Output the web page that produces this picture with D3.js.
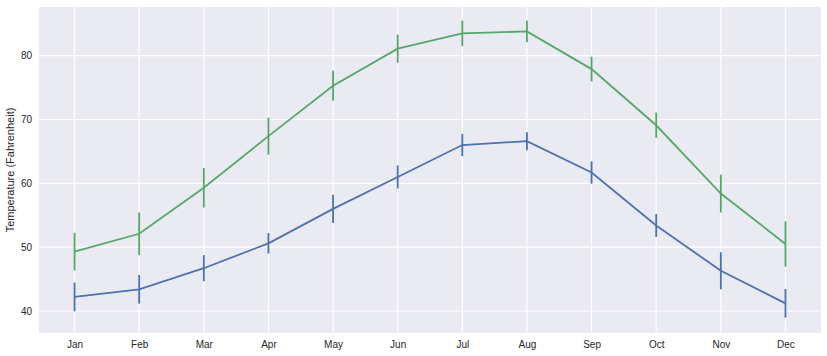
<!DOCTYPE html>
<html>
<head>
<meta charset="utf-8">
<script src="https://cdn.jsdelivr.net/npm/d3@7"></script>
<style>
  html, body { margin: 0; padding: 0; background: #ffffff; }
  svg { display: block; }
  text { font-family: "Liberation Sans", Arial, sans-serif; fill: #262626; }
</style>
</head>
<body>
<svg id="chart" width="827" height="356"></svg>
<script>
const months = ["Jan","Feb","Mar","Apr","May","Jun","Jul","Aug","Sep","Oct","Nov","Dec"];
const lowTemps  = [42.2, 43.4, 46.7, 50.6, 56.0, 61.0, 66.0, 66.6, 61.7, 53.4, 46.3, 41.2];
const lowErr    = [2.25, 2.25, 2.05, 1.6, 2.2, 1.8, 1.75, 1.4, 1.75, 1.8, 2.9, 2.25];
const highTemps = [49.3, 52.1, 59.3, 67.4, 75.3, 81.1, 83.5, 83.8, 77.9, 69.1, 58.4, 50.5];
const highErr   = [2.95, 3.35, 3.1, 2.9, 2.35, 2.2, 2.0, 1.7, 1.95, 2.0, 2.95, 3.55];
const yTicks = [40, 50, 60, 70, 80];
const yLabel = "Temperature (Fahrenheit)";

const series = [
  { values: lowTemps, errs: lowErr, color: "#4C72B0" },
  { values: highTemps, errs: highErr, color: "#55A868" }
];

const mLeft = 39, mRight = 821, mTop = 7, mBottom = 333;
const svg = d3.select("#chart");

const x = d3.scaleLinear().domain([-0.55, months.length - 1 + 0.55]).range([mLeft, mRight]);
const y = d3.scaleLinear().domain([36.55, 87.63]).range([mBottom, mTop]);

svg.append("rect").attr("x", mLeft).attr("y", mTop)
  .attr("width", mRight - mLeft).attr("height", mBottom - mTop).attr("fill", "#EAEAF2");

// grid
const g = svg.append("g");
g.selectAll("line.vg").data(months).join("line")
  .attr("x1", (d, i) => x(i)).attr("x2", (d, i) => x(i))
  .attr("y1", mTop).attr("y2", mBottom)
  .attr("stroke", "#ffffff").attr("stroke-width", 1.2);
g.selectAll("line.hg").data(yTicks).join("line")
  .attr("x1", mLeft).attr("x2", mRight)
  .attr("y1", d => y(d)).attr("y2", d => y(d))
  .attr("stroke", "#ffffff").attr("stroke-width", 1.2);

// axes
const xAxis = d3.axisBottom(x).tickValues(d3.range(months.length))
  .tickFormat(i => months[i]).tickSize(0).tickPadding(8);
const xg = svg.append("g").attr("transform", `translate(0,${mBottom})`).call(xAxis);
xg.select(".domain").remove();
xg.selectAll("text").attr("font-size", 10).style("font-family", "'Liberation Sans', Arial, sans-serif").attr("fill", "#262626");

const yAxis = d3.axisLeft(y).tickValues(yTicks).tickSize(0).tickPadding(7);
const yg = svg.append("g").attr("transform", `translate(${mLeft},0)`).call(yAxis);
yg.select(".domain").remove();
yg.selectAll("text").attr("font-size", 10).style("font-family", "'Liberation Sans', Arial, sans-serif").attr("fill", "#262626");

svg.append("text")
  .attr("transform", `translate(14,${(mTop + mBottom) / 2}) rotate(-90)`)
  .attr("text-anchor", "middle")
  .attr("font-size", 11)
  .text(yLabel);

// series
const line = d3.line().x((d, i) => x(i)).y(d => y(d));
series.forEach(s => {
  const sg = svg.append("g");
  sg.append("path").datum(s.values)
    .attr("d", line).attr("fill", "none")
    .attr("stroke", s.color).attr("stroke-width", 1.8);
  sg.selectAll("line.err").data(s.values).join("line")
    .attr("x1", (d, i) => x(i)).attr("x2", (d, i) => x(i))
    .attr("y1", (d, i) => y(d + s.errs[i])).attr("y2", (d, i) => y(d - s.errs[i]))
    .attr("stroke", s.color).attr("stroke-width", 1.8);
});
</script>
</body>
</html>
